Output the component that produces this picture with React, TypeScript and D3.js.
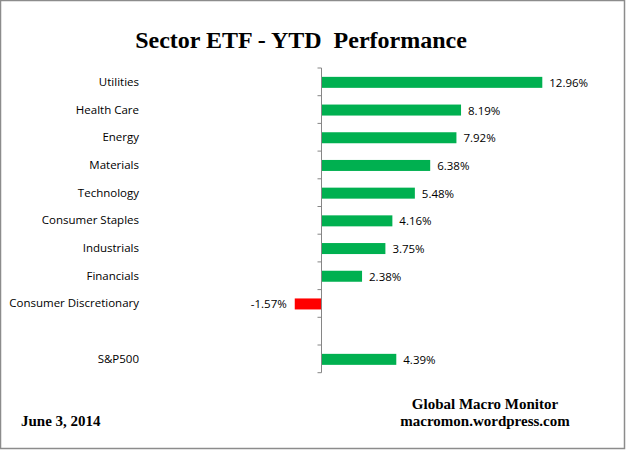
import { useEffect, useRef } from "react";
import * as d3 from "d3";

const categories = [
  "Utilities",
  "Health Care",
  "Energy",
  "Materials",
  "Technology",
  "Consumer Staples",
  "Industrials",
  "Financials",
  "Consumer Discretionary",
  "",
  "S&P500",
];
const values: (number | null)[] = [12.96, 8.19, 7.92, 6.38, 5.48, 4.16, 3.75, 2.38, -1.57, null, 4.39];
const valueLabels = ["12.96%", "8.19%", "7.92%", "6.38%", "5.48%", "4.16%", "3.75%", "2.38%", "-1.57%", "", "4.39%"];

const title = "Sector ETF - YTD\u00a0 Performance";
const dateNote = "June 3, 2014";
const sourceLines = ["Global Macro Monitor", "macromon.wordpress.com"];

export default function App() {
  const svgRef = useRef<SVGSVGElement | null>(null);

  useEffect(() => {
    document.body.style.margin = "0";
    if (!svgRef.current) return;

    const width = 626;
    const height = 450;
    const svg = d3.select(svgRef.current);
    svg.selectAll("*").remove();
    svg.attr("width", width).attr("height", height);

    svg.append("rect").attr("width", width).attr("height", height).attr("fill", "#fff");
    svg.append("rect")
      .attr("x", 0.5).attr("y", 0.5)
      .attr("width", width - 2).attr("height", height - 2)
      .attr("fill", "none").attr("stroke", "#8c8c8c").attr("stroke-width", 1.5);

    svg.append("text")
      .attr("x", 301).attr("y", 48)
      .attr("text-anchor", "middle")
      .attr("font-family", "Liberation Serif, serif")
      .attr("font-weight", 700)
      .attr("font-size", 24)
      .text(title);

    const idx = categories.map((_, i) => String(i));
    const y = d3.scaleBand<string>().domain(idx).range([68, 372.7]).paddingInner(0).paddingOuter(0);
    const x = d3.scaleLinear().domain([0, 12.96]).range([321.5, 542.3]);

    const font = "Open Sans, Noto Sans, sans-serif";
    const fs = 11.5;

    // bars
    const bh = 11;
    const rows = values.map((v, i) => ({ v, i })).filter(d => d.v !== null) as { v: number; i: number }[];
    svg.selectAll("rect.bar")
      .data(rows)
      .enter()
      .append("rect")
      .attr("class", "bar")
      .attr("x", d => Math.min(x(0), x(d.v)))
      .attr("width", d => Math.abs(x(d.v) - x(0)))
      .attr("y", d => y(String(d.i))! + y.bandwidth() / 2 - bh / 2 + 0.5)
      .attr("height", bh)
      .attr("fill", d => (d.v < 0 ? "#ff0000" : "#00b050"));

    // value labels
    svg.selectAll("text.val")
      .data(rows)
      .enter()
      .append("text")
      .attr("class", "val")
      .attr("x", d => (d.v < 0 ? x(d.v) - 8 : x(d.v) + 7))
      .attr("y", d => y(String(d.i))! + y.bandwidth() / 2 + 5)
      .attr("text-anchor", d => (d.v < 0 ? "end" : "start"))
      .attr("font-family", font)
      .attr("font-size", fs)
      .attr("fill", "#000")
      .text(d => valueLabels[d.i]);

    // category labels
    svg.selectAll("text.cat")
      .data(categories.map((c, i) => ({ c, i })))
      .enter()
      .append("text")
      .attr("class", "cat")
      .attr("x", 139)
      .attr("y", d => y(String(d.i))! + y.bandwidth() / 2 + 4)
      .attr("text-anchor", "end")
      .attr("font-family", font)
      .attr("font-size", fs)
      .attr("fill", "#000")
      .text(d => d.c);

    // axis
    const axis = svg.append("g").attr("transform", `translate(${x(0)},0)`);
    const edges = idx.map(k => y(k)!).concat([y.range()[1]]);
    axis.append("line")
      .attr("x1", 0).attr("x2", 0)
      .attr("y1", y.range()[0]).attr("y2", y.range()[1])
      .attr("stroke", "#868686").attr("stroke-width", 1);
    axis.selectAll("line.tick")
      .data(edges)
      .enter()
      .append("line")
      .attr("class", "tick")
      .attr("x1", -4).attr("x2", 0)
      .attr("y1", d => d).attr("y2", d => d)
      .attr("stroke", "#868686").attr("stroke-width", 1);

    // footer
    svg.append("text")
      .attr("x", 21).attr("y", 426)
      .attr("font-family", "Liberation Serif, serif")
      .attr("font-weight", 700)
      .attr("font-size", 15)
      .text(dateNote);

    svg.selectAll("text.src")
      .data(sourceLines)
      .enter()
      .append("text")
      .attr("class", "src")
      .attr("x", 485)
      .attr("y", (_, i) => 409 + i * 17)
      .attr("text-anchor", "middle")
      .attr("font-family", "Liberation Serif, serif")
      .attr("font-weight", 700)
      .attr("font-size", 15)
      .text(d => d);
  }, []);

  return <svg ref={svgRef} style={{ display: "block" }} />;
}
